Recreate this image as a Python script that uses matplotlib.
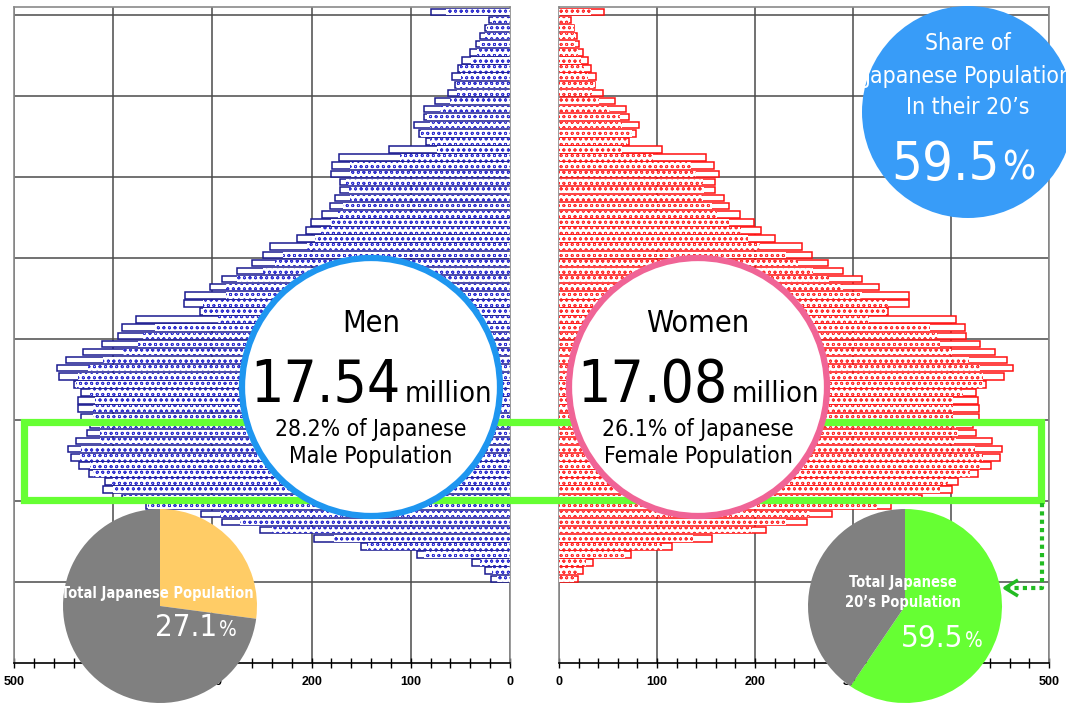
import matplotlib.pyplot as plt
from matplotlib.patches import Circle, Rectangle

# ages 10..80 (bottom to top)
ages = list(range(10, 81))

male_total = [19, 25, 38, 94, 150, 198, 252, 290, 311, 367,
              391, 410, 408, 424, 434, 443, 446, 438, 426, 423,
              432, 435, 435, 432, 440, 455, 457, 448, 430, 411,
              395, 391, 377, 312, 329, 328, 302, 290, 275, 260,
              249, 242, 215, 206, 201, 190, 181, 176, 171, 171,
              180, 179, 172, 122, 85, 92, 97, 87, 87, 76,
              63, 55, 58, 52, 48, 40, 34, 30, 25, 21, 80]
male_jp = [13, 18, 30, 87, 144, 177, 240, 272, 292, 365,
           390, 400, 401, 420, 423, 433, 432, 413, 413, 413,
           420, 420, 418, 423, 438, 435, 425, 410, 390, 375,
           370, 358, 294, 309, 309, 286, 286, 275, 249, 237,
           229, 205, 197, 191, 180, 173, 168, 161, 162, 165,
           161, 161, 111, 74, 81, 90, 81, 84, 71, 60,
           53, 54, 49, 50, 39, 33, 30, 25, 23, 18, 65]
female_total = [19, 24, 35, 73, 115, 156, 211, 253, 279, 339,
                370, 401, 407, 428, 441, 450, 452, 442, 426, 422,
                429, 429, 428, 425, 436, 454, 463, 457, 445, 430,
                415, 414, 405, 336, 357, 357, 327, 309, 290, 274,
                258, 248, 220, 206, 199, 185, 173, 168, 159, 159,
                163, 158, 150, 105, 71, 79, 82, 71, 68, 57,
                45, 37, 38, 33, 30, 24, 20, 18, 15, 12, 46]
female_jp = [15, 18, 28, 67, 105, 137, 197, 232, 256, 324,
             368, 389, 397, 419, 430, 433, 424, 405, 407, 405,
             402, 402, 402, 412, 433, 433, 430, 418, 401, 389,
             387, 379, 316, 334, 336, 309, 290, 275, 259, 244,
             232, 205, 193, 186, 173, 161, 156, 147, 148, 147,
             140, 135, 96, 64, 69, 74, 64, 62, 52, 41,
             34, 37, 30, 26, 22, 19, 16, 16, 15, 10, 33]

men_label = ["Men", "17.54", "28.2% of Japanese\nMale Population"]
women_label = ["Women", "17.08", "26.1% of Japanese\nFemale Population"]
men_pie = [27.1, 72.9]
women_pie = [59.5, 40.5]

cond = dict(family='DejaVu Sans', fontstretch='condensed')
plt.rcParams['hatch.linewidth'] = 0.6

fig = plt.figure(figsize=(10.66, 7.03), dpi=100)

ax_m = fig.add_axes([14/1066, 1 - 663/703, 496/1066, 656/703])
ax_f = fig.add_axes([559/1066, 1 - 663/703, 490/1066, 656/703])

for ax, tot, jp, col, hcol in [(ax_m, male_total, male_jp, '#1a1a90', '#3030d0'),
                               (ax_f, female_total, female_jp, '#ff1010', '#ff3030')]:
    ax.barh(ages, tot, height=0.8, align='edge', color='white',
            edgecolor=col, linewidth=1.1, zorder=2)
    ax.barh(ages, jp, height=0.8, align='edge', color='white',
            edgecolor=hcol, hatch='ooo', linewidth=0, zorder=3)
    ax.set_ylim(0, 81)
    ax.set_xlim(0, 500)
    ax.set_xticks(range(0, 501, 100))
    ax.set_xticks(range(0, 501, 20), minor=True)
    ax.set_yticks(range(10, 81, 10))
    ax.tick_params(axis='y', length=0, labelleft=False)
    ax.tick_params(axis='x', which='both', direction='inout', length=7,
                   width=1, color='black', pad=6)
    ax.grid(True, which='major', color='#4a4a4a', lw=1.1, zorder=1)
    ax.set_axisbelow(True)
    for lbl in ax.get_xticklabels():
        lbl.set_fontweight('bold')
        lbl.set_fontsize(9)
        lbl.set_family('Liberation Sans')
    for s in ['top', 'left', 'right']:
        ax.spines[s].set_color('#8a8a8a')
        ax.spines[s].set_linewidth(1.2)
    ax.spines['bottom'].set_linewidth(1.2)

ax_m.invert_xaxis()

# overlay in pixel coordinates
ov = fig.add_axes([0, 0, 1, 1], zorder=5)
ov.set_xlim(0, 1066)
ov.set_ylim(703, 0)
ov.axis('off')
ov.patch.set_alpha(0)

green = '#66ff33'
ov.add_patch(Rectangle((24, 421.5), 1017, 78, fill=False, edgecolor=green,
                       linewidth=5.2, zorder=1))

# dotted arrow
ov.plot([1042, 1042, 1008], [503, 588, 588], color='#22bb22', lw=3,
        linestyle=(0, (1, 1)), zorder=1)
ov.plot([1018, 1005, 1018], [580, 588, 596], color='#22bb22', lw=2.5,
        solid_capstyle='butt', zorder=1)

for cx, col, lab in [(371, '#1e96f0', men_label), (698, '#f06496', women_label)]:
    ov.add_patch(Circle((cx, 387), 129, facecolor='white', edgecolor=col,
                        linewidth=4.5, zorder=2))
    ov.text(cx, 323, lab[0], ha='center', va='center', fontsize=22,
            zorder=3, **cond)
    ov.text(cx + 30, 402, lab[1], ha='right', va='baseline', fontsize=42,
            zorder=3, **cond)
    ov.text(cx + 34, 402, 'million', ha='left', va='baseline', fontsize=21,
            zorder=3, **cond)
    ov.text(cx, 443, lab[2], ha='center', va='center', fontsize=16.5,
            linespacing=1.25, zorder=3, **cond)

blue = Circle((968, 112), 106, facecolor='#389cf8', edgecolor='none', zorder=2)
ov.add_patch(blue)
for y, s in [(43, 'Share of'), (76, 'Japanese Population'), (107, 'In their 20\u2019s')]:
    t = ov.text(968, y, s, ha='center', va='center', fontsize=16.5,
                color='white', zorder=3, clip_on=True, **cond)
    t.set_clip_path(blue)
ov.text(1000, 180, '59.5', ha='right', va='baseline', fontsize=39,
        color='white', zorder=3, **cond)
ov.text(1002, 180, '%', ha='left', va='baseline', fontsize=28,
        color='white', zorder=3, **cond)

# pies
pm = fig.add_axes([63/1066, 0, 194/1066, 194/703], zorder=6)
pm.pie(men_pie, colors=['#ffcc66', '#808080'], startangle=90,
       counterclock=False, radius=1)
pm.set_xlim(-1, 1)
pm.set_ylim(-1, 1)
pm.text(-0.03, 0.13, 'Total Japanese Population', ha='center', va='center',
        fontsize=10.5, fontweight='bold', color='white', **cond)
pm.text(0.59, -0.22, '27.1', ha='right', va='center', fontsize=22.5,
        color='white', **cond)
pm.text(0.61, -0.25, '%', ha='left', va='center', fontsize=15,
        color='white', **cond)

pf = fig.add_axes([808/1066, 0, 194/1066, 194/703], zorder=6)
pf.pie(women_pie, colors=[green, '#808080'], startangle=90,
       counterclock=False, radius=1)
pf.set_xlim(-1, 1)
pf.set_ylim(-1, 1)
pf.text(-0.02, 0.14, 'Total Japanese\n20\u2019s Population', ha='center',
        va='center', fontsize=10.5, fontweight='bold', color='white',
        linespacing=1.35, **cond)
pf.text(0.6, -0.33, '59.5', ha='right', va='center', fontsize=22.5,
        color='white', **cond)
pf.text(0.62, -0.36, '%', ha='left', va='center', fontsize=15,
        color='white', **cond)

fig.savefig('out.png', dpi=100)
